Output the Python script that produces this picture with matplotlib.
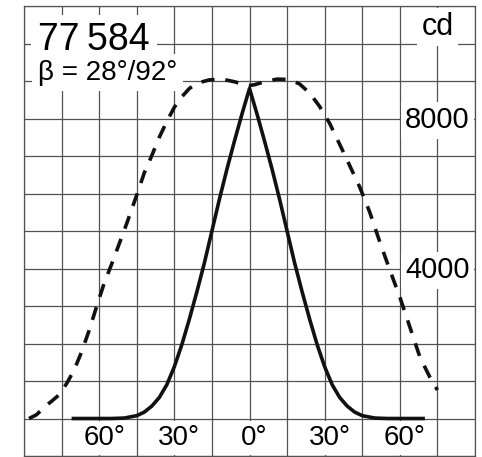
import matplotlib.pyplot as plt
import matplotlib.transforms as mtransforms
import numpy as np

# Luminous intensity curves (cd) vs. angle (deg)
narrow_angle = [-71, -60, -55, -50, -45, -42, -39, -36, -33, -30, -27, -24, -21, -18,
                -15, -12, -9, -6, -3, 0, 3, 6, 9, 12, 15, 18, 21, 24, 27, 30, 33,
                36, 39, 42, 45, 50, 55, 60, 70]
narrow_cd = [0, 0, 0, 12, 75, 170, 330, 560, 900, 1380, 1970, 2650, 3380, 4150,
             5000, 5850, 6650, 7400, 8120, 8800, 8120, 7400, 6650, 5850, 5000, 4150,
             3380, 2650, 1970, 1380, 900, 560, 330, 170, 75, 12, 0, 0, 0]

wide_angle = [-88, -85, -82, -79, -76, -73, -70, -67, -64, -61, -58, -55, -52, -49,
              -45, -42, -39, -36, -33, -30, -27, -24, -21, -16, -11, -6, -2, 0, 2, 6,
              11, 16, 20, 24, 28, 32, 35, 38, 41, 44, 48, 52, 56, 60, 64, 68, 72, 75]
wide_cd = [0, 100, 300, 460, 630, 930, 1290, 1780, 2350, 2990, 3610, 4120, 4660,
           5200, 5960, 6550, 7010, 7500, 7920, 8300, 8580, 8800, 8940, 9030, 9050,
           8980, 8900, 8880, 8900, 8980, 9050, 9040, 8920, 8680, 8320, 7870, 7450,
           7030, 6600, 6170, 5500, 4710, 3960, 3240, 2440, 1640, 1100, 760]

angle_ticks = [-60, -30, 0, 30, 60]
angle_labels = ['60°', '30°', '0°', '30°', '60°']
cd_ticks = [8000, 4000]

title = '77\u2009584'
subtitle = 'β = 28°/92°'

font = ['Liberation Sans', 'DejaVu Sans']
grid_col = '#525252'

fig = plt.figure(figsize=(4.82, 4.57), dpi=100)
ax = fig.add_axes([24 / 482, 1 / 457, 451 / 482, 450 / 457])

ax.set_xlim(-90, 90)
ax.set_ylim(-1000, 11000)
ax.set_xticks(np.arange(-90, 91, 15))
ax.set_yticks(np.arange(-1000, 11001, 1000))
ax.tick_params(length=0, labelbottom=False, labelleft=False)
ax.grid(True, color=grid_col, linewidth=0.9)
ax.set_axisbelow(True)
for s in ax.spines.values():
    s.set_color(grid_col)
    s.set_linewidth(0.9)

# curves
ax.plot(narrow_angle, narrow_cd, color='#111111', lw=2.6, solid_capstyle='butt', zorder=5)
ax.plot(wide_angle, wide_cd, color='#111111', lw=2.6, ls=(0, (3.7, 3.0)), zorder=5)

white = dict(facecolor='white', edgecolor='none', pad=3)

# angle labels along the bottom
lab_tr = mtransforms.offset_copy(ax.transData, fig=fig, x=3.6, y=-19, units='points')
for a, t in zip(angle_ticks, angle_labels):
    ax.text(a, 0, t, transform=lab_tr, ha='center', va='baseline', fontsize=20,
            family=font, bbox=white, zorder=4)

# intensity labels on the right
cd_tr = mtransforms.offset_copy(ax.transData, fig=fig, y=-7.2, units='points')
for v in cd_ticks:
    ax.text(75, v, str(v), transform=cd_tr, ha='center', va='baseline', fontsize=21,
            family=font, bbox=white, zorder=4)

unit_tr = mtransforms.offset_copy(ax.transData, fig=fig, y=6, units='points')
ax.text(75, 10000, 'cd', transform=unit_tr, ha='center', va='baseline', fontsize=22,
        family=font, bbox=white, zorder=4)

# header
ax.text(0.031, 0.902, title, transform=ax.transAxes, ha='left', va='baseline',
        fontsize=27, family=font, bbox=dict(facecolor='white', edgecolor='none', pad=5), zorder=4)
ax.text(0.031, 0.836, subtitle, transform=ax.transAxes, ha='left', va='baseline',
        fontsize=20, family=font, bbox=dict(facecolor='white', edgecolor='none', pad=4), zorder=4)

plt.savefig('out.png', dpi=100)
